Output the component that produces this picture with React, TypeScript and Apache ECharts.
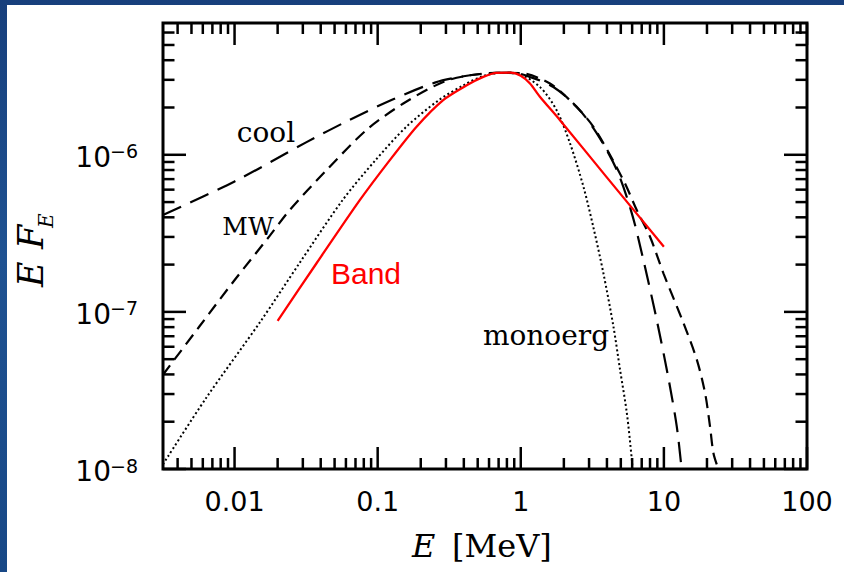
import React, { useEffect, useRef } from "react";
import * as echarts from "echarts";

// Axis ranges (log-log)
const E_MIN = 0.0031623;
const E_MAX = 100;
const F_MIN = 1e-8;
const F_MAX = 6.9e-6;

// Tick values and labels
const xMajor = [0.01, 0.1, 1, 10, 100];
const xMajorLabels = ["0.01", "0.1", "1", "10", "100"];
const xMinor = [
  0.004, 0.005, 0.006, 0.007, 0.008, 0.009,
  0.02, 0.03, 0.04, 0.05, 0.06, 0.07, 0.08, 0.09,
  0.2, 0.3, 0.4, 0.5, 0.6, 0.7, 0.8, 0.9,
  2, 3, 4, 5, 6, 7, 8, 9,
  20, 30, 40, 50, 60, 70, 80, 90,
];
const yMajor = [1e-8, 1e-7, 1e-6];
const yMajorExp = ["\u22128", "\u22127", "\u22126"];
const yMinor = [
  2e-8, 3e-8, 4e-8, 5e-8, 6e-8, 7e-8, 8e-8, 9e-8,
  2e-7, 3e-7, 4e-7, 5e-7, 6e-7, 7e-7, 8e-7, 9e-7,
  2e-6, 3e-6, 4e-6, 5e-6, 6e-6,
];

// "cool" spectrum (long dashes)
const coolE = [0.00316, 0.01, 0.0316, 0.0631, 0.126, 0.251, 0.398, 0.631, 0.891, 1.16, 1.69, 2.46, 3.4, 4.69, 5.97, 7.19, 8.91, 10.7, 12.3, 13.3];
const coolF = [4.14e-7, 6.76e-7, 1.2e-6, 1.66e-6, 2.24e-6, 2.88e-6, 3.16e-6, 3.31e-6, 3.33e-6, 3.13e-6, 2.7e-6, 2.02e-6, 1.37e-6, 8.0e-7, 4.24e-7, 2.14e-7, 8.9e-8, 3.88e-8, 1.87e-8, 1.0e-8];

// "MW" spectrum (short dashes)
const mwE = [0.00316, 0.00571, 0.00977, 0.0176, 0.0243, 0.044, 0.0836, 0.151, 0.287, 0.442, 0.678, 1.0, 1.6, 2.24, 3.21, 5.21, 6.46, 8.0, 9.93, 13.7, 17.0, 19.4, 21.0, 22.2, 24.0];
const mwF = [3.98e-8, 8.13e-8, 1.55e-7, 3.05e-7, 4.45e-7, 8.0e-7, 1.44e-6, 2.12e-6, 2.91e-6, 3.21e-6, 3.32e-6, 3.31e-6, 2.84e-6, 2.19e-6, 1.51e-6, 6.9e-7, 4.45e-7, 3.01e-7, 1.76e-7, 8.5e-8, 4.95e-8, 3.04e-8, 1.87e-8, 1.26e-8, 1.0e-8];

// "monoerg" spectrum (dotted)
const monoE = [0.00316, 0.00631, 0.01528, 0.02838, 0.057, 0.0966, 0.159, 0.268, 0.398, 0.537, 0.708, 0.935, 1.36, 1.78, 2.21, 2.74, 3.21, 3.78, 4.44, 4.94, 5.51, 5.97, 6.03];
const monoF = [1.07e-8, 2.82e-8, 8.77e-8, 2.04e-7, 5.16e-7, 9.25e-7, 1.51e-6, 2.23e-6, 2.77e-6, 3.16e-6, 3.32e-6, 3.29e-6, 2.7e-6, 1.92e-6, 1.18e-6, 6.27e-7, 3.48e-7, 1.76e-7, 8.07e-8, 4.28e-8, 2.27e-8, 1.15e-8, 1.0e-8];

// Band function fit (red)
const bandE = [0.02, 0.0374, 0.0752, 0.1216, 0.187, 0.287, 0.419, 0.547, 0.678, 0.851, 1.0, 1.16, 1.36, 1.88, 3.98, 10];
const bandF = [8.77e-8, 2.04e-7, 5.16e-7, 9.25e-7, 1.51e-6, 2.23e-6, 2.77e-6, 3.13e-6, 3.32e-6, 3.33e-6, 3.18e-6, 2.84e-6, 2.34e-6, 1.66e-6, 7.21e-7, 2.6e-7];

const pairs = (xs: number[], ys: number[]) => xs.map((x, i) => [x, ys[i]]);

const TICK_STYLE = { stroke: "#000", lineWidth: 2.5 };

function xTickItem(params: any, api: any) {
  const v = api.value(0);
  const major = api.value(2) === 1;
  const b = api.coord([v, F_MIN]);
  const t = api.coord([v, F_MAX]);
  const len = major ? 22 : 11;
  return {
    type: "group",
    children: [
      { type: "line", shape: { x1: b[0], y1: b[1], x2: b[0], y2: b[1] - len }, style: TICK_STYLE },
      { type: "line", shape: { x1: t[0], y1: t[1], x2: t[0], y2: t[1] + len }, style: TICK_STYLE },
    ],
  };
}

function yTickItem(params: any, api: any) {
  const v = api.value(1);
  const major = api.value(2) === 1;
  const l = api.coord([E_MIN, v]);
  const r = api.coord([E_MAX, v]);
  const len = major ? 23 : 11.5;
  return {
    type: "group",
    children: [
      { type: "line", shape: { x1: l[0], y1: l[1], x2: l[0] + len, y2: l[1] }, style: TICK_STYLE },
      { type: "line", shape: { x1: r[0], y1: r[1], x2: r[0] - len, y2: r[1] }, style: TICK_STYLE },
    ],
  };
}

function xLabelItem(params: any, api: any) {
  const p = api.coord([api.value(0), F_MIN]);
  return {
    type: "text",
    x: p[0],
    y: p[1] + 32,
    style: {
      text: xMajorLabels[params.dataIndex],
      font: '27px "DejaVu Sans"',
      fill: "#000",
      align: "center",
      verticalAlign: "middle",
      textAlign: "center",
      textVerticalAlign: "middle",
    },
  };
}

function yLabelItem(params: any, api: any) {
  const p = api.coord([E_MIN, api.value(1)]);
  return {
    type: "group",
    children: [
      {
        type: "text",
        x: p[0] - 52,
        y: p[1] + 2.5,
        style: {
          text: "10",
          font: '28px "DejaVu Sans"',
          fill: "#000",
          align: "right",
          verticalAlign: "middle",
          textAlign: "right",
          textVerticalAlign: "middle",
        },
      },
      {
        type: "text",
        x: p[0] - 53,
        y: p[1] - 3.5,
        style: {
          text: yMajorExp[params.dataIndex],
          font: '19px "DejaVu Sans"',
          fill: "#000",
          align: "left",
          verticalAlign: "middle",
          textAlign: "left",
          textVerticalAlign: "middle",
        },
      },
    ],
  };
}

// Text placed by the vertical middle of its line box
function label(text: string, x: number, y: number, size: number, opts: any = {}) {
  return {
    type: "text",
    x,
    y,
    style: {
      text,
      font: `${opts.italic ? "italic " : ""}${size}px "${opts.family || "DejaVu Serif"}"`,
      fill: opts.color || "#000",
      align: opts.align || "left",
      verticalAlign: "middle",
      textAlign: opts.align || "left",
      textVerticalAlign: "middle",
    },
    silent: true,
  };
}

export default function App() {
  const ref = useRef<HTMLDivElement>(null);

  useEffect(() => {
    if (!ref.current) return;
    const chart = echarts.init(ref.current, undefined, { renderer: "svg" });
    const hidden = {
      axisLine: { show: false },
      axisTick: { show: false },
      axisLabel: { show: false },
      splitLine: { show: false },
    };
    chart.setOption({
      animation: false,
      backgroundColor: "transparent",
      grid: {
        left: 163,
        top: 23,
        right: 37,
        bottom: 103,
        show: true,
        borderColor: "#000",
        borderWidth: 3,
        backgroundColor: "transparent",
      },
      xAxis: { type: "log", logBase: 10, min: E_MIN, max: E_MAX, ...hidden },
      yAxis: { type: "log", logBase: 10, min: F_MIN, max: F_MAX, ...hidden },
      graphic: [
        // axis titles
        label("E", 412, 546, 32, { italic: true }),
        label("[MeV]", 452, 546, 32),
        {
          type: "group",
          x: 34,
          y: 252,
          rotation: Math.PI / 2,
          children: [
            label("E", -35, -3, 35, { italic: true }),
            label("F", 3, -3, 35, { italic: true }),
            label("E", 24, 12, 20, { italic: true }),
          ],
        },
        // curve labels
        label("cool", 266, 132, 28, { align: "center" }),
        label("MW", 248, 226, 25, { align: "center" }),
        label("monoerg", 546, 335, 28, { align: "center" }),
        label("Band", 366, 273, 30, { align: "center", family: "Liberation Sans", color: "#ff0000" }),
      ],
      series: [
        {
          name: "cool",
          type: "line",
          data: pairs(coolE, coolF),
          symbol: "none",
          smooth: 0.3,
          silent: true,
          lineStyle: { color: "#000", width: 2.2, type: [20, 10] },
        },
        {
          name: "MW",
          type: "line",
          data: pairs(mwE, mwF),
          symbol: "none",
          smooth: 0.3,
          silent: true,
          lineStyle: { color: "#000", width: 2.2, type: [12, 7] },
        },
        {
          name: "monoerg",
          type: "line",
          data: pairs(monoE, monoF),
          symbol: "none",
          smooth: 0.3,
          silent: true,
          lineStyle: { color: "#000", width: 2, type: [2, 2.6] },
        },
        {
          name: "Band",
          type: "line",
          data: pairs(bandE, bandF),
          symbol: "none",
          smooth: 0.25,
          silent: true,
          lineStyle: { color: "#ff0000", width: 2.3, type: "solid" },
        },
        {
          type: "custom",
          silent: true,
          clip: false,
          renderItem: xTickItem,
          data: [...xMajor.map((v) => [v, F_MIN, 1]), ...xMinor.map((v) => [v, F_MIN, 0])],
          z: 5,
        },
        {
          type: "custom",
          silent: true,
          clip: false,
          renderItem: yTickItem,
          data: [...yMajor.map((v) => [E_MIN, v, 1]), ...yMinor.map((v) => [E_MIN, v, 0])],
          z: 5,
        },
        {
          type: "custom",
          silent: true,
          clip: false,
          renderItem: xLabelItem,
          data: xMajor.map((v) => [v, F_MIN]),
          z: 5,
        },
        {
          type: "custom",
          silent: true,
          clip: false,
          renderItem: yLabelItem,
          data: yMajor.map((v) => [E_MIN, v]),
          z: 5,
        },
      ],
    });
    return () => chart.dispose();
  }, []);

  return (
    <div
      style={{
        position: "fixed",
        left: 0,
        top: 0,
        width: 844,
        height: 572,
        background: "linear-gradient(180deg, #173f7c 0%, #1f5292 45%, #184886 100%)",
        overflow: "hidden",
      }}
    >
      <div style={{ position: "absolute", left: 7, top: 5, right: 0, bottom: 0, background: "#ffffff" }} />
      <div ref={ref} style={{ position: "absolute", left: 0, top: 0, width: 844, height: 572 }} />
    </div>
  );
}
